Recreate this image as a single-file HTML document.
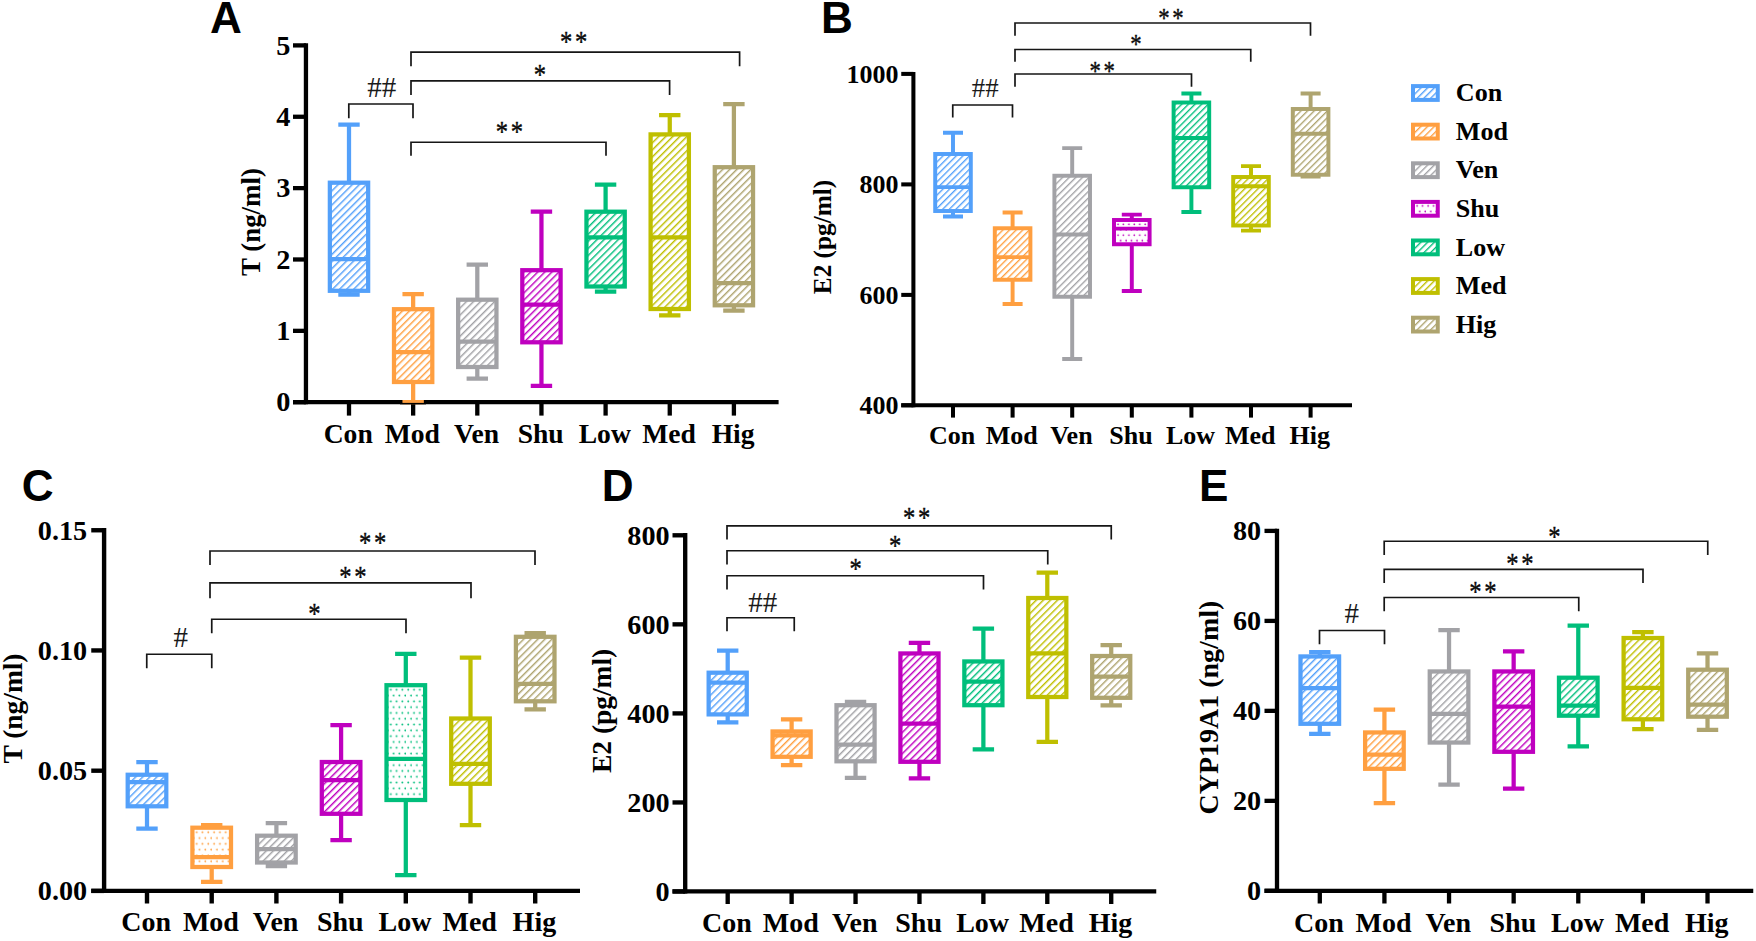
<!DOCTYPE html>
<html lang="en">
<head>
<meta charset="utf-8">
<title>Hormone levels box plots</title>
<style>
html,body{margin:0;padding:0;background:#fff;}
body{width:1756px;height:941px;overflow:hidden;}
svg{display:block;}
text{white-space:pre;}
</style>
</head>
<body>
<svg width="1756" height="941" viewBox="0 0 1756 941">
<rect width="1756" height="941" fill="#fff"/>
<defs>
<pattern id="p1" width="5" height="5" patternUnits="userSpaceOnUse" patternTransform="translate(5.49 0) rotate(45)"><rect x="0" y="-1" width="1.45" height="7" fill="#53A0FA"/></pattern>
<pattern id="p2" width="5" height="5" patternUnits="userSpaceOnUse" patternTransform="translate(5.22 0) rotate(45)"><rect x="0" y="-1" width="1.45" height="7" fill="#FF9F40"/></pattern>
<pattern id="p3" width="5" height="5" patternUnits="userSpaceOnUse" patternTransform="translate(3.3 0) rotate(45)"><rect x="0" y="-1" width="1.45" height="7" fill="#A2A2A6"/></pattern>
<pattern id="p4" width="5" height="5" patternUnits="userSpaceOnUse" patternTransform="translate(2.6 0) rotate(45)"><rect x="0" y="-1" width="1.45" height="7" fill="#BF00BF"/></pattern>
<pattern id="p5" width="5" height="5" patternUnits="userSpaceOnUse" patternTransform="translate(1.17 0) rotate(45)"><rect x="0" y="-1" width="1.45" height="7" fill="#00BE7B"/></pattern>
<pattern id="p6" width="5" height="5" patternUnits="userSpaceOnUse" patternTransform="translate(2.17 0) rotate(45)"><rect x="0" y="-1" width="1.45" height="7" fill="#BFBF00"/></pattern>
<pattern id="p7" width="5" height="5" patternUnits="userSpaceOnUse" patternTransform="translate(0.12 0) rotate(45)"><rect x="0" y="-1" width="1.45" height="7" fill="#AEA46F"/></pattern>
<pattern id="p8" width="4.69" height="4.69" patternUnits="userSpaceOnUse" patternTransform="translate(3.5 0) rotate(45)"><rect x="0" y="-1" width="1.36" height="6.69" fill="#53A0FA"/></pattern>
<pattern id="p9" width="4.69" height="4.69" patternUnits="userSpaceOnUse" patternTransform="translate(4.84 0) rotate(45)"><rect x="0" y="-1" width="1.36" height="6.69" fill="#FF9F40"/></pattern>
<pattern id="p10" width="4.69" height="4.69" patternUnits="userSpaceOnUse" patternTransform="translate(5.31 0) rotate(45)"><rect x="0" y="-1" width="1.36" height="6.69" fill="#A2A2A6"/></pattern>
<pattern id="p11" width="5.43" height="10.87" patternUnits="userSpaceOnUse" patternTransform="translate(1115.97 221.97)"><circle cx="2.06" cy="2.25" r="0.89" fill="#BF00BF"/><circle cx="4.78" cy="7.68" r="0.89" fill="#BF00BF"/></pattern>
<pattern id="p12" width="4.69" height="4.69" patternUnits="userSpaceOnUse" patternTransform="translate(4.88 0) rotate(45)"><rect x="0" y="-1" width="1.36" height="6.69" fill="#00BE7B"/></pattern>
<pattern id="p13" width="4.69" height="4.69" patternUnits="userSpaceOnUse" patternTransform="translate(6.47 0) rotate(45)"><rect x="0" y="-1" width="1.36" height="6.69" fill="#BFBF00"/></pattern>
<pattern id="p14" width="4.69" height="4.69" patternUnits="userSpaceOnUse" patternTransform="translate(4.7 0) rotate(45)"><rect x="0" y="-1" width="1.36" height="6.69" fill="#AEA46F"/></pattern>
<pattern id="p15" width="5" height="5" patternUnits="userSpaceOnUse" patternTransform="translate(6.48 0) rotate(45)"><rect x="0" y="-1" width="1.45" height="7" fill="#53A0FA"/></pattern>
<pattern id="p16" width="5.8" height="11.6" patternUnits="userSpaceOnUse" patternTransform="translate(194.52 829.83)"><circle cx="2.2" cy="2.4" r="0.95" fill="#FF9F40"/><circle cx="5.1" cy="8.2" r="0.95" fill="#FF9F40"/></pattern>
<pattern id="p17" width="5" height="5" patternUnits="userSpaceOnUse" patternTransform="translate(5.91 0) rotate(45)"><rect x="0" y="-1" width="1.45" height="7" fill="#A2A2A6"/></pattern>
<pattern id="p18" width="5" height="5" patternUnits="userSpaceOnUse" patternTransform="translate(3.98 0) rotate(45)"><rect x="0" y="-1" width="1.45" height="7" fill="#BF00BF"/></pattern>
<pattern id="p19" width="5.8" height="11.6" patternUnits="userSpaceOnUse" patternTransform="translate(388.62 687.33)"><circle cx="2.2" cy="2.4" r="0.95" fill="#00BE7B"/><circle cx="5.1" cy="8.2" r="0.95" fill="#00BE7B"/></pattern>
<pattern id="p20" width="5" height="5" patternUnits="userSpaceOnUse" patternTransform="translate(5.03 0) rotate(45)"><rect x="0" y="-1" width="1.45" height="7" fill="#BFBF00"/></pattern>
<pattern id="p21" width="5" height="5" patternUnits="userSpaceOnUse" patternTransform="translate(2.17 0) rotate(45)"><rect x="0" y="-1" width="1.45" height="7" fill="#AEA46F"/></pattern>
<pattern id="p22" width="5" height="5" patternUnits="userSpaceOnUse" patternTransform="translate(4.55 0) rotate(45)"><rect x="0" y="-1" width="1.45" height="7" fill="#53A0FA"/></pattern>
<pattern id="p23" width="5" height="5" patternUnits="userSpaceOnUse" patternTransform="translate(7.01 0) rotate(45)"><rect x="0" y="-1" width="1.45" height="7" fill="#FF9F40"/></pattern>
<pattern id="p24" width="5" height="5" patternUnits="userSpaceOnUse" patternTransform="translate(2.25 0) rotate(45)"><rect x="0" y="-1" width="1.45" height="7" fill="#A2A2A6"/></pattern>
<pattern id="p25" width="5" height="5" patternUnits="userSpaceOnUse" patternTransform="translate(0.28 0) rotate(45)"><rect x="0" y="-1" width="1.45" height="7" fill="#BF00BF"/></pattern>
<pattern id="p26" width="5" height="5" patternUnits="userSpaceOnUse" patternTransform="translate(1.49 0) rotate(45)"><rect x="0" y="-1" width="1.45" height="7" fill="#00BE7B"/></pattern>
<pattern id="p27" width="5" height="5" patternUnits="userSpaceOnUse" patternTransform="translate(1.96 0) rotate(45)"><rect x="0" y="-1" width="1.45" height="7" fill="#BFBF00"/></pattern>
<pattern id="p28" width="5" height="5" patternUnits="userSpaceOnUse" patternTransform="translate(3.67 0) rotate(45)"><rect x="0" y="-1" width="1.45" height="7" fill="#AEA46F"/></pattern>
<pattern id="p29" width="5" height="5" patternUnits="userSpaceOnUse" patternTransform="translate(0.32 0) rotate(45)"><rect x="0" y="-1" width="1.45" height="7" fill="#53A0FA"/></pattern>
<pattern id="p30" width="5" height="5" patternUnits="userSpaceOnUse" patternTransform="translate(6.59 0) rotate(45)"><rect x="0" y="-1" width="1.45" height="7" fill="#FF9F40"/></pattern>
<pattern id="p31" width="5" height="5" patternUnits="userSpaceOnUse" patternTransform="translate(3.14 0) rotate(45)"><rect x="0" y="-1" width="1.45" height="7" fill="#A2A2A6"/></pattern>
<pattern id="p32" width="5" height="5" patternUnits="userSpaceOnUse" patternTransform="translate(4.12 0) rotate(45)"><rect x="0" y="-1" width="1.45" height="7" fill="#BF00BF"/></pattern>
<pattern id="p33" width="5" height="5" patternUnits="userSpaceOnUse" patternTransform="translate(4.28 0) rotate(45)"><rect x="0" y="-1" width="1.45" height="7" fill="#00BE7B"/></pattern>
<pattern id="p34" width="5" height="5" patternUnits="userSpaceOnUse" patternTransform="translate(0.92 0) rotate(45)"><rect x="0" y="-1" width="1.45" height="7" fill="#BFBF00"/></pattern>
<pattern id="p35" width="5" height="5" patternUnits="userSpaceOnUse" patternTransform="translate(5.31 0) rotate(45)"><rect x="0" y="-1" width="1.45" height="7" fill="#AEA46F"/></pattern>
<pattern id="p36" width="4.75" height="4.75" patternUnits="userSpaceOnUse" patternTransform="translate(3.01 0) rotate(45)"><rect x="0" y="-1" width="1.38" height="6.75" fill="#53A0FA"/></pattern>
<pattern id="p37" width="4.75" height="4.75" patternUnits="userSpaceOnUse" patternTransform="translate(1.31 0) rotate(45)"><rect x="0" y="-1" width="1.38" height="6.75" fill="#FF9F40"/></pattern>
<pattern id="p38" width="4.75" height="4.75" patternUnits="userSpaceOnUse" patternTransform="translate(6.32 0) rotate(45)"><rect x="0" y="-1" width="1.38" height="6.75" fill="#A2A2A6"/></pattern>
<pattern id="p39" width="5.51" height="11.02" patternUnits="userSpaceOnUse" patternTransform="translate(1415 203.6)"><circle cx="2.09" cy="2.28" r="0.9" fill="#BF00BF"/><circle cx="4.84" cy="7.79" r="0.9" fill="#BF00BF"/></pattern>
<pattern id="p40" width="4.75" height="4.75" patternUnits="userSpaceOnUse" patternTransform="translate(2.91 0) rotate(45)"><rect x="0" y="-1" width="1.38" height="6.75" fill="#00BE7B"/></pattern>
<pattern id="p41" width="4.75" height="4.75" patternUnits="userSpaceOnUse" patternTransform="translate(1.2 0) rotate(45)"><rect x="0" y="-1" width="1.38" height="6.75" fill="#BFBF00"/></pattern>
<pattern id="p42" width="4.75" height="4.75" patternUnits="userSpaceOnUse" patternTransform="translate(6.22 0) rotate(45)"><rect x="0" y="-1" width="1.38" height="6.75" fill="#AEA46F"/></pattern>
</defs>
<text x="209.97" y="32.57" font-family="'Liberation Sans',Arial,sans-serif" font-weight="bold" font-size="44.1" fill="#000">A</text>
<path d="M305.95 43.2 V404.35" stroke="#000" stroke-width="4.3"/>
<path d="M293 402.2 H778.6" stroke="#000" stroke-width="4.3"/>
<path d="M293 45.4 H305.95" stroke="#000" stroke-width="4.3"/>
<text x="290.3" y="54.5" text-anchor="end" font-family="'Liberation Serif','Times New Roman',serif" font-weight="bold" font-size="28.3" fill="#000">5</text>
<path d="M293 116.76 H305.95" stroke="#000" stroke-width="4.3"/>
<text x="290.3" y="125.86" text-anchor="end" font-family="'Liberation Serif','Times New Roman',serif" font-weight="bold" font-size="28.3" fill="#000">4</text>
<path d="M293 188.12 H305.95" stroke="#000" stroke-width="4.3"/>
<text x="290.3" y="197.22" text-anchor="end" font-family="'Liberation Serif','Times New Roman',serif" font-weight="bold" font-size="28.3" fill="#000">3</text>
<path d="M293 259.48 H305.95" stroke="#000" stroke-width="4.3"/>
<text x="290.3" y="268.58" text-anchor="end" font-family="'Liberation Serif','Times New Roman',serif" font-weight="bold" font-size="28.3" fill="#000">2</text>
<path d="M293 330.84 H305.95" stroke="#000" stroke-width="4.3"/>
<text x="290.3" y="339.94" text-anchor="end" font-family="'Liberation Serif','Times New Roman',serif" font-weight="bold" font-size="28.3" fill="#000">1</text>
<path d="M293 402.2 H305.95" stroke="#000" stroke-width="4.3"/>
<text x="290.3" y="411.3" text-anchor="end" font-family="'Liberation Serif','Times New Roman',serif" font-weight="bold" font-size="28.3" fill="#000">0</text>
<path d="M349 402.2 V415.6" stroke="#000" stroke-width="4.3"/>
<text x="348.2" y="443.25" text-anchor="middle" font-family="'Liberation Serif','Times New Roman',serif" font-weight="bold" font-size="27.6" fill="#000">Con</text>
<path d="M413.15 402.2 V415.6" stroke="#000" stroke-width="4.3"/>
<text x="412.35" y="443.25" text-anchor="middle" font-family="'Liberation Serif','Times New Roman',serif" font-weight="bold" font-size="27.6" fill="#000">Mod</text>
<path d="M477.3 402.2 V415.6" stroke="#000" stroke-width="4.3"/>
<text x="476.5" y="443.25" text-anchor="middle" font-family="'Liberation Serif','Times New Roman',serif" font-weight="bold" font-size="27.6" fill="#000">Ven</text>
<path d="M541.45 402.2 V415.6" stroke="#000" stroke-width="4.3"/>
<text x="540.65" y="443.25" text-anchor="middle" font-family="'Liberation Serif','Times New Roman',serif" font-weight="bold" font-size="27.6" fill="#000">Shu</text>
<path d="M605.6 402.2 V415.6" stroke="#000" stroke-width="4.3"/>
<text x="604.8" y="443.25" text-anchor="middle" font-family="'Liberation Serif','Times New Roman',serif" font-weight="bold" font-size="27.6" fill="#000">Low</text>
<path d="M669.75 402.2 V415.6" stroke="#000" stroke-width="4.3"/>
<text x="668.95" y="443.25" text-anchor="middle" font-family="'Liberation Serif','Times New Roman',serif" font-weight="bold" font-size="27.6" fill="#000">Med</text>
<path d="M733.9 402.2 V415.6" stroke="#000" stroke-width="4.3"/>
<text x="733.1" y="443.25" text-anchor="middle" font-family="'Liberation Serif','Times New Roman',serif" font-weight="bold" font-size="27.6" fill="#000">Hig</text>
<text transform="translate(260 222) rotate(-90) scale(0.96 1)" text-anchor="middle" font-family="'Liberation Serif','Times New Roman',serif" font-weight="bold" font-size="28" fill="#000">T (ng/ml)</text>
<path d="M349 124.5 V182.7 M349 290.8 V294.5 M338.3 124.5 H359.7 M338.3 294.5 H359.7" stroke="#53A0FA" stroke-width="4.25" fill="none"/>
<rect x="329.85" y="182.7" width="38.3" height="108.1" fill="#fff"/>
<rect x="329.85" y="182.7" width="38.3" height="108.1" fill="url(#p1)" stroke="#53A0FA" stroke-width="4.25"/>
<path d="M329.85 259 H368.15" stroke="#53A0FA" stroke-width="4.25"/>
<path d="M413.15 294 V309.2 M413.15 382 V402.2 M402.45 294 H423.85 M402.45 402.2 H423.85" stroke="#FF9F40" stroke-width="4.25" fill="none"/>
<rect x="394" y="309.2" width="38.3" height="72.8" fill="#fff"/>
<rect x="394" y="309.2" width="38.3" height="72.8" fill="url(#p2)" stroke="#FF9F40" stroke-width="4.25"/>
<path d="M394 352 H432.3" stroke="#FF9F40" stroke-width="4.25"/>
<path d="M477.3 264.6 V299.7 M477.3 367 V378.5 M466.6 264.6 H488 M466.6 378.5 H488" stroke="#A2A2A6" stroke-width="4.25" fill="none"/>
<rect x="458.15" y="299.7" width="38.3" height="67.3" fill="#fff"/>
<rect x="458.15" y="299.7" width="38.3" height="67.3" fill="url(#p3)" stroke="#A2A2A6" stroke-width="4.25"/>
<path d="M458.15 341.6 H496.45" stroke="#A2A2A6" stroke-width="4.25"/>
<path d="M541.45 211.5 V270.2 M541.45 342.3 V385.9 M530.75 211.5 H552.15 M530.75 385.9 H552.15" stroke="#BF00BF" stroke-width="4.25" fill="none"/>
<rect x="522.3" y="270.2" width="38.3" height="72.1" fill="#fff"/>
<rect x="522.3" y="270.2" width="38.3" height="72.1" fill="url(#p4)" stroke="#BF00BF" stroke-width="4.25"/>
<path d="M522.3 304.6 H560.6" stroke="#BF00BF" stroke-width="4.25"/>
<path d="M605.6 184.5 V211.7 M605.6 286.5 V291.6 M594.9 184.5 H616.3 M594.9 291.6 H616.3" stroke="#00BE7B" stroke-width="4.25" fill="none"/>
<rect x="586.45" y="211.7" width="38.3" height="74.8" fill="#fff"/>
<rect x="586.45" y="211.7" width="38.3" height="74.8" fill="url(#p5)" stroke="#00BE7B" stroke-width="4.25"/>
<path d="M586.45 237.4 H624.75" stroke="#00BE7B" stroke-width="4.25"/>
<path d="M669.75 115.2 V134.4 M669.75 309 V315.4 M659.05 115.2 H680.45 M659.05 315.4 H680.45" stroke="#BFBF00" stroke-width="4.25" fill="none"/>
<rect x="650.6" y="134.4" width="38.3" height="174.6" fill="#fff"/>
<rect x="650.6" y="134.4" width="38.3" height="174.6" fill="url(#p6)" stroke="#BFBF00" stroke-width="4.25"/>
<path d="M650.6 237.4 H688.9" stroke="#BFBF00" stroke-width="4.25"/>
<path d="M733.9 104 V167.2 M733.9 305.3 V310.6 M723.2 104 H744.6 M723.2 310.6 H744.6" stroke="#AEA46F" stroke-width="4.25" fill="none"/>
<rect x="714.75" y="167.2" width="38.3" height="138.1" fill="#fff"/>
<rect x="714.75" y="167.2" width="38.3" height="138.1" fill="url(#p7)" stroke="#AEA46F" stroke-width="4.25"/>
<path d="M714.75 283 H753.05" stroke="#AEA46F" stroke-width="4.25"/>
<rect x="400" y="402.9" width="26" height="1.45" fill="#000"/>
<path d="M348.8 118.2 V104 H413 V118.2" fill="none" stroke="#161616" stroke-width="1.7"/>
<path d="M411 66.25 V52.2 H739.6 V66.25" fill="none" stroke="#161616" stroke-width="1.7"/>
<path d="M411 95 V80.9 H669.6 V95" fill="none" stroke="#161616" stroke-width="1.7"/>
<path d="M411 155.75 V142.25 H606 V155.75" fill="none" stroke="#161616" stroke-width="1.7"/>
<text x="367.18" y="96.74" font-family="'Liberation Serif','Times New Roman',serif" font-size="29" fill="#1a1a1a">##</text>
<text transform="translate(573.65 50.62) scale(0.82 1)" x="-16.66" y="0" letter-spacing="3.29" font-family="'Liberation Serif','Times New Roman',serif" font-size="30" fill="#0a0a0a" stroke="#0a0a0a" stroke-width="0.4">**</text>
<text transform="translate(540.02 84.12) scale(0.82 1)" x="-7.52" y="0" letter-spacing="3.29" font-family="'Liberation Serif','Times New Roman',serif" font-size="30" fill="#0a0a0a" stroke="#0a0a0a" stroke-width="0.4">*</text>
<text transform="translate(509.4 140.87) scale(0.82 1)" x="-16.66" y="0" letter-spacing="3.29" font-family="'Liberation Serif','Times New Roman',serif" font-size="30" fill="#0a0a0a" stroke="#0a0a0a" stroke-width="0.4">**</text>
<text x="821" y="32.57" font-family="'Liberation Sans',Arial,sans-serif" font-weight="bold" font-size="44.1" fill="#000">B</text>
<path d="M913.4 71.9 V407.22" stroke="#000" stroke-width="4.05"/>
<path d="M901.25 405.2 H1352" stroke="#000" stroke-width="4.05"/>
<path d="M901.25 73.9 H913.4" stroke="#000" stroke-width="4.05"/>
<text x="898.4" y="82.6" text-anchor="end" font-family="'Liberation Serif','Times New Roman',serif" font-weight="bold" font-size="26" fill="#000">1000</text>
<path d="M901.25 184.4 H913.4" stroke="#000" stroke-width="4.05"/>
<text x="898.4" y="193.1" text-anchor="end" font-family="'Liberation Serif','Times New Roman',serif" font-weight="bold" font-size="26" fill="#000">800</text>
<path d="M901.25 294.9 H913.4" stroke="#000" stroke-width="4.05"/>
<text x="898.4" y="303.6" text-anchor="end" font-family="'Liberation Serif','Times New Roman',serif" font-weight="bold" font-size="26" fill="#000">600</text>
<path d="M901.25 405.3 H913.4" stroke="#000" stroke-width="4.05"/>
<text x="898.4" y="414" text-anchor="end" font-family="'Liberation Serif','Times New Roman',serif" font-weight="bold" font-size="26" fill="#000">400</text>
<path d="M953 405.2 V417.6" stroke="#000" stroke-width="4.05"/>
<text x="952.2" y="443.5" text-anchor="middle" font-family="'Liberation Serif','Times New Roman',serif" font-weight="bold" font-size="26" fill="#000">Con</text>
<path d="M1012.6 405.2 V417.6" stroke="#000" stroke-width="4.05"/>
<text x="1011.8" y="443.5" text-anchor="middle" font-family="'Liberation Serif','Times New Roman',serif" font-weight="bold" font-size="26" fill="#000">Mod</text>
<path d="M1072.2 405.2 V417.6" stroke="#000" stroke-width="4.05"/>
<text x="1071.4" y="443.5" text-anchor="middle" font-family="'Liberation Serif','Times New Roman',serif" font-weight="bold" font-size="26" fill="#000">Ven</text>
<path d="M1131.8 405.2 V417.6" stroke="#000" stroke-width="4.05"/>
<text x="1131" y="443.5" text-anchor="middle" font-family="'Liberation Serif','Times New Roman',serif" font-weight="bold" font-size="26" fill="#000">Shu</text>
<path d="M1191.4 405.2 V417.6" stroke="#000" stroke-width="4.05"/>
<text x="1190.6" y="443.5" text-anchor="middle" font-family="'Liberation Serif','Times New Roman',serif" font-weight="bold" font-size="26" fill="#000">Low</text>
<path d="M1251 405.2 V417.6" stroke="#000" stroke-width="4.05"/>
<text x="1250.2" y="443.5" text-anchor="middle" font-family="'Liberation Serif','Times New Roman',serif" font-weight="bold" font-size="26" fill="#000">Med</text>
<path d="M1310.6 405.2 V417.6" stroke="#000" stroke-width="4.05"/>
<text x="1309.8" y="443.5" text-anchor="middle" font-family="'Liberation Serif','Times New Roman',serif" font-weight="bold" font-size="26" fill="#000">Hig</text>
<text transform="translate(831.3 237) rotate(-90) scale(0.98 1)" text-anchor="middle" font-family="'Liberation Serif','Times New Roman',serif" font-weight="bold" font-size="25.8" fill="#000">E2 (pg/ml)</text>
<path d="M953 132.75 V154 M953 211 V216.5 M943 132.75 H963 M943 216.5 H963" stroke="#53A0FA" stroke-width="3.95" fill="none"/>
<rect x="935.2" y="154" width="35.6" height="57" fill="#fff"/>
<rect x="935.2" y="154" width="35.6" height="57" fill="url(#p8)" stroke="#53A0FA" stroke-width="3.95"/>
<path d="M935.2 187.1 H970.8" stroke="#53A0FA" stroke-width="3.95"/>
<path d="M1012.6 212.5 V228.25 M1012.6 279.75 V303.9 M1002.6 212.5 H1022.6 M1002.6 303.9 H1022.6" stroke="#FF9F40" stroke-width="3.95" fill="none"/>
<rect x="994.8" y="228.25" width="35.6" height="51.5" fill="#fff"/>
<rect x="994.8" y="228.25" width="35.6" height="51.5" fill="url(#p9)" stroke="#FF9F40" stroke-width="3.95"/>
<path d="M994.8 257.1 H1030.4" stroke="#FF9F40" stroke-width="3.95"/>
<path d="M1072.2 148.1 V175.75 M1072.2 296.75 V358.9 M1062.2 148.1 H1082.2 M1062.2 358.9 H1082.2" stroke="#A2A2A6" stroke-width="3.95" fill="none"/>
<rect x="1054.4" y="175.75" width="35.6" height="121" fill="#fff"/>
<rect x="1054.4" y="175.75" width="35.6" height="121" fill="url(#p10)" stroke="#A2A2A6" stroke-width="3.95"/>
<path d="M1054.4 234.4 H1090" stroke="#A2A2A6" stroke-width="3.95"/>
<path d="M1131.8 214.6 V220 M1131.8 244.25 V290.9 M1121.8 214.6 H1141.8 M1121.8 290.9 H1141.8" stroke="#BF00BF" stroke-width="3.95" fill="none"/>
<rect x="1114" y="220" width="35.6" height="24.25" fill="#fff"/>
<rect x="1114" y="220" width="35.6" height="24.25" fill="url(#p11)" stroke="#BF00BF" stroke-width="3.95"/>
<path d="M1114 228.6 H1149.6" stroke="#BF00BF" stroke-width="3.95"/>
<path d="M1191.4 93.5 V102.5 M1191.4 187.25 V212 M1181.4 93.5 H1201.4 M1181.4 212 H1201.4" stroke="#00BE7B" stroke-width="3.95" fill="none"/>
<rect x="1173.6" y="102.5" width="35.6" height="84.75" fill="#fff"/>
<rect x="1173.6" y="102.5" width="35.6" height="84.75" fill="url(#p12)" stroke="#00BE7B" stroke-width="3.95"/>
<path d="M1173.6 137.9 H1209.2" stroke="#00BE7B" stroke-width="3.95"/>
<path d="M1251 166.1 V177 M1251 225.5 V230.6 M1241 166.1 H1261 M1241 230.6 H1261" stroke="#BFBF00" stroke-width="3.95" fill="none"/>
<rect x="1233.2" y="177" width="35.6" height="48.5" fill="#fff"/>
<rect x="1233.2" y="177" width="35.6" height="48.5" fill="url(#p13)" stroke="#BFBF00" stroke-width="3.95"/>
<path d="M1233.2 186.25 H1268.8" stroke="#BFBF00" stroke-width="3.95"/>
<path d="M1310.6 93.4 V109 M1310.6 174.75 V176.5 M1300.6 93.4 H1320.6 M1300.6 176.5 H1320.6" stroke="#AEA46F" stroke-width="3.95" fill="none"/>
<rect x="1292.8" y="109" width="35.6" height="65.75" fill="#fff"/>
<rect x="1292.8" y="109" width="35.6" height="65.75" fill="url(#p14)" stroke="#AEA46F" stroke-width="3.95"/>
<path d="M1292.8 133.75 H1328.4" stroke="#AEA46F" stroke-width="3.95"/>
<path d="M952.75 117.5 V105 H1012.5 V117.5" fill="none" stroke="#161616" stroke-width="1.7"/>
<path d="M1015 35.75 V23 H1310.5 V35.75" fill="none" stroke="#161616" stroke-width="1.7"/>
<path d="M1015 61.75 V49.5 H1250.75 V61.75" fill="none" stroke="#161616" stroke-width="1.7"/>
<path d="M1015 86.75 V74 H1191.5 V86.75" fill="none" stroke="#161616" stroke-width="1.7"/>
<text x="971.74" y="97.05" font-family="'Liberation Serif','Times New Roman',serif" font-size="26.87" fill="#1a1a1a">##</text>
<text transform="translate(1170.98 26.91) scale(0.82 1)" x="-15.44" y="0" letter-spacing="3.05" font-family="'Liberation Serif','Times New Roman',serif" font-size="27.8" fill="#0a0a0a" stroke="#0a0a0a" stroke-width="0.4">**</text>
<text transform="translate(1135.98 52.91) scale(0.82 1)" x="-6.96" y="0" letter-spacing="3.05" font-family="'Liberation Serif','Times New Roman',serif" font-size="27.8" fill="#0a0a0a" stroke="#0a0a0a" stroke-width="0.4">*</text>
<text transform="translate(1102.23 80.16) scale(0.82 1)" x="-15.44" y="0" letter-spacing="3.05" font-family="'Liberation Serif','Times New Roman',serif" font-size="27.8" fill="#0a0a0a" stroke="#0a0a0a" stroke-width="0.4">**</text>
<text x="21.64" y="500.78" font-family="'Liberation Sans',Arial,sans-serif" font-weight="bold" font-size="44.1" fill="#000">C</text>
<path d="M104.1 528.1 V893.1" stroke="#000" stroke-width="4.4"/>
<path d="M91.25 890.9 H580" stroke="#000" stroke-width="4.4"/>
<path d="M91.25 530.25 H104.1" stroke="#000" stroke-width="4.4"/>
<text x="87.2" y="539.65" text-anchor="end" font-family="'Liberation Serif','Times New Roman',serif" font-weight="bold" font-size="28.2" fill="#000">0.15</text>
<path d="M91.25 650.45 H104.1" stroke="#000" stroke-width="4.4"/>
<text x="87.2" y="659.85" text-anchor="end" font-family="'Liberation Serif','Times New Roman',serif" font-weight="bold" font-size="28.2" fill="#000">0.10</text>
<path d="M91.25 770.7 H104.1" stroke="#000" stroke-width="4.4"/>
<text x="87.2" y="780.1" text-anchor="end" font-family="'Liberation Serif','Times New Roman',serif" font-weight="bold" font-size="28.2" fill="#000">0.05</text>
<path d="M91.25 890.9 H104.1" stroke="#000" stroke-width="4.4"/>
<text x="87.2" y="900.3" text-anchor="end" font-family="'Liberation Serif','Times New Roman',serif" font-weight="bold" font-size="28.2" fill="#000">0.00</text>
<path d="M147 890.9 V903.5" stroke="#000" stroke-width="4.4"/>
<text x="146.2" y="931" text-anchor="middle" font-family="'Liberation Serif','Times New Roman',serif" font-weight="bold" font-size="28" fill="#000">Con</text>
<path d="M211.7 890.9 V903.5" stroke="#000" stroke-width="4.4"/>
<text x="210.9" y="931" text-anchor="middle" font-family="'Liberation Serif','Times New Roman',serif" font-weight="bold" font-size="28" fill="#000">Mod</text>
<path d="M276.4 890.9 V903.5" stroke="#000" stroke-width="4.4"/>
<text x="275.6" y="931" text-anchor="middle" font-family="'Liberation Serif','Times New Roman',serif" font-weight="bold" font-size="28" fill="#000">Ven</text>
<path d="M341.1 890.9 V903.5" stroke="#000" stroke-width="4.4"/>
<text x="340.3" y="931" text-anchor="middle" font-family="'Liberation Serif','Times New Roman',serif" font-weight="bold" font-size="28" fill="#000">Shu</text>
<path d="M405.8 890.9 V903.5" stroke="#000" stroke-width="4.4"/>
<text x="405" y="931" text-anchor="middle" font-family="'Liberation Serif','Times New Roman',serif" font-weight="bold" font-size="28" fill="#000">Low</text>
<path d="M470.5 890.9 V903.5" stroke="#000" stroke-width="4.4"/>
<text x="469.7" y="931" text-anchor="middle" font-family="'Liberation Serif','Times New Roman',serif" font-weight="bold" font-size="28" fill="#000">Med</text>
<path d="M535.2 890.9 V903.5" stroke="#000" stroke-width="4.4"/>
<text x="534.4" y="931" text-anchor="middle" font-family="'Liberation Serif','Times New Roman',serif" font-weight="bold" font-size="28" fill="#000">Hig</text>
<text transform="translate(22 708.5) rotate(-90) scale(0.98 1)" text-anchor="middle" font-family="'Liberation Serif','Times New Roman',serif" font-weight="bold" font-size="28" fill="#000">T (ng/ml)</text>
<path d="M147 762.2 V774.75 M147 806.3 V828.6 M136.3 762.2 H157.7 M136.3 828.6 H157.7" stroke="#53A0FA" stroke-width="4.25" fill="none"/>
<rect x="127.7" y="774.75" width="38.6" height="31.55" fill="#fff"/>
<rect x="127.7" y="774.75" width="38.6" height="31.55" fill="url(#p15)" stroke="#53A0FA" stroke-width="4.25"/>
<path d="M127.7 782.2 H166.3" stroke="#53A0FA" stroke-width="4.25"/>
<path d="M211.7 825 V827.7 M211.7 867 V881.75 M201 825 H222.4 M201 881.75 H222.4" stroke="#FF9F40" stroke-width="4.25" fill="none"/>
<rect x="192.4" y="827.7" width="38.6" height="39.3" fill="#fff"/>
<rect x="192.4" y="827.7" width="38.6" height="39.3" fill="url(#p16)" stroke="#FF9F40" stroke-width="4.25"/>
<path d="M192.4 857.1 H231" stroke="#FF9F40" stroke-width="4.25"/>
<path d="M276.4 823 V835.7 M276.4 862.5 V866 M265.7 823 H287.1 M265.7 866 H287.1" stroke="#A2A2A6" stroke-width="4.25" fill="none"/>
<rect x="257.1" y="835.7" width="38.6" height="26.8" fill="#fff"/>
<rect x="257.1" y="835.7" width="38.6" height="26.8" fill="url(#p17)" stroke="#A2A2A6" stroke-width="4.25"/>
<path d="M257.1 849.1 H295.7" stroke="#A2A2A6" stroke-width="4.25"/>
<path d="M341.1 725.1 V762 M341.1 813.8 V840.1 M330.4 725.1 H351.8 M330.4 840.1 H351.8" stroke="#BF00BF" stroke-width="4.25" fill="none"/>
<rect x="321.8" y="762" width="38.6" height="51.8" fill="#fff"/>
<rect x="321.8" y="762" width="38.6" height="51.8" fill="url(#p18)" stroke="#BF00BF" stroke-width="4.25"/>
<path d="M321.8 780 H360.4" stroke="#BF00BF" stroke-width="4.25"/>
<path d="M405.8 653.9 V685.2 M405.8 800 V875.1 M395.1 653.9 H416.5 M395.1 875.1 H416.5" stroke="#00BE7B" stroke-width="4.25" fill="none"/>
<rect x="386.5" y="685.2" width="38.6" height="114.8" fill="#fff"/>
<rect x="386.5" y="685.2" width="38.6" height="114.8" fill="url(#p19)" stroke="#00BE7B" stroke-width="4.25"/>
<path d="M386.5 758.75 H425.1" stroke="#00BE7B" stroke-width="4.25"/>
<path d="M470.5 657.6 V718.5 M470.5 783.8 V825.1 M459.8 657.6 H481.2 M459.8 825.1 H481.2" stroke="#BFBF00" stroke-width="4.25" fill="none"/>
<rect x="451.2" y="718.5" width="38.6" height="65.3" fill="#fff"/>
<rect x="451.2" y="718.5" width="38.6" height="65.3" fill="url(#p20)" stroke="#BFBF00" stroke-width="4.25"/>
<path d="M451.2 763.9 H489.8" stroke="#BFBF00" stroke-width="4.25"/>
<path d="M535.2 633 V636.8 M535.2 701.3 V709.4 M524.5 633 H545.9 M524.5 709.4 H545.9" stroke="#AEA46F" stroke-width="4.25" fill="none"/>
<rect x="515.9" y="636.8" width="38.6" height="64.5" fill="#fff"/>
<rect x="515.9" y="636.8" width="38.6" height="64.5" fill="url(#p21)" stroke="#AEA46F" stroke-width="4.25"/>
<path d="M515.9 683.9 H554.5" stroke="#AEA46F" stroke-width="4.25"/>
<path d="M146.75 668.25 V654.25 H211.75 V668.25" fill="none" stroke="#161616" stroke-width="1.7"/>
<path d="M210 565 V551 H535 V565" fill="none" stroke="#161616" stroke-width="1.7"/>
<path d="M210 598.25 V582.8 H471 V598.25" fill="none" stroke="#161616" stroke-width="1.7"/>
<path d="M211.75 633.25 V619.25 H406 V633.25" fill="none" stroke="#161616" stroke-width="1.7"/>
<text x="173.43" y="646.74" font-family="'Liberation Serif','Times New Roman',serif" font-size="29" fill="#1a1a1a">#</text>
<text transform="translate(372.57 552.02) scale(0.82 1)" x="-16.66" y="0" letter-spacing="3.29" font-family="'Liberation Serif','Times New Roman',serif" font-size="30" fill="#0a0a0a" stroke="#0a0a0a" stroke-width="0.4">**</text>
<text transform="translate(352.82 586.27) scale(0.82 1)" x="-16.66" y="0" letter-spacing="3.29" font-family="'Liberation Serif','Times New Roman',serif" font-size="30" fill="#0a0a0a" stroke="#0a0a0a" stroke-width="0.4">**</text>
<text transform="translate(314.45 622.89) scale(0.82 1)" x="-7.52" y="0" letter-spacing="3.29" font-family="'Liberation Serif','Times New Roman',serif" font-size="30" fill="#0a0a0a" stroke="#0a0a0a" stroke-width="0.4">*</text>
<text x="601.77" y="501.15" font-family="'Liberation Sans',Arial,sans-serif" font-weight="bold" font-size="44.1" fill="#000">D</text>
<path d="M685.2 533.1 V893.57" stroke="#000" stroke-width="4.35"/>
<path d="M672.5 891.4 H1156.25" stroke="#000" stroke-width="4.35"/>
<path d="M672.5 535.3 H685.2" stroke="#000" stroke-width="4.35"/>
<text x="669.6" y="544.7" text-anchor="end" font-family="'Liberation Serif','Times New Roman',serif" font-weight="bold" font-size="28.2" fill="#000">800</text>
<path d="M672.5 624.35 H685.2" stroke="#000" stroke-width="4.35"/>
<text x="669.6" y="633.75" text-anchor="end" font-family="'Liberation Serif','Times New Roman',serif" font-weight="bold" font-size="28.2" fill="#000">600</text>
<path d="M672.5 713.4 H685.2" stroke="#000" stroke-width="4.35"/>
<text x="669.6" y="722.8" text-anchor="end" font-family="'Liberation Serif','Times New Roman',serif" font-weight="bold" font-size="28.2" fill="#000">400</text>
<path d="M672.5 802.45 H685.2" stroke="#000" stroke-width="4.35"/>
<text x="669.6" y="811.85" text-anchor="end" font-family="'Liberation Serif','Times New Roman',serif" font-weight="bold" font-size="28.2" fill="#000">200</text>
<path d="M672.5 891.5 H685.2" stroke="#000" stroke-width="4.35"/>
<text x="669.6" y="900.9" text-anchor="end" font-family="'Liberation Serif','Times New Roman',serif" font-weight="bold" font-size="28.2" fill="#000">0</text>
<path d="M727.7 891.4 V904" stroke="#000" stroke-width="4.35"/>
<text x="726.9" y="931.5" text-anchor="middle" font-family="'Liberation Serif','Times New Roman',serif" font-weight="bold" font-size="28" fill="#000">Con</text>
<path d="M791.62 891.4 V904" stroke="#000" stroke-width="4.35"/>
<text x="790.82" y="931.5" text-anchor="middle" font-family="'Liberation Serif','Times New Roman',serif" font-weight="bold" font-size="28" fill="#000">Mod</text>
<path d="M855.54 891.4 V904" stroke="#000" stroke-width="4.35"/>
<text x="854.74" y="931.5" text-anchor="middle" font-family="'Liberation Serif','Times New Roman',serif" font-weight="bold" font-size="28" fill="#000">Ven</text>
<path d="M919.46 891.4 V904" stroke="#000" stroke-width="4.35"/>
<text x="918.66" y="931.5" text-anchor="middle" font-family="'Liberation Serif','Times New Roman',serif" font-weight="bold" font-size="28" fill="#000">Shu</text>
<path d="M983.38 891.4 V904" stroke="#000" stroke-width="4.35"/>
<text x="982.58" y="931.5" text-anchor="middle" font-family="'Liberation Serif','Times New Roman',serif" font-weight="bold" font-size="28" fill="#000">Low</text>
<path d="M1047.3 891.4 V904" stroke="#000" stroke-width="4.35"/>
<text x="1046.5" y="931.5" text-anchor="middle" font-family="'Liberation Serif','Times New Roman',serif" font-weight="bold" font-size="28" fill="#000">Med</text>
<path d="M1111.22 891.4 V904" stroke="#000" stroke-width="4.35"/>
<text x="1110.42" y="931.5" text-anchor="middle" font-family="'Liberation Serif','Times New Roman',serif" font-weight="bold" font-size="28" fill="#000">Hig</text>
<text transform="translate(611.2 710.9) rotate(-90) scale(0.99 1)" text-anchor="middle" font-family="'Liberation Serif','Times New Roman',serif" font-weight="bold" font-size="27.7" fill="#000">E2 (pg/ml)</text>
<path d="M727.7 650.6 V672.7 M727.7 714.4 V722.3 M717 650.6 H738.4 M717 722.3 H738.4" stroke="#53A0FA" stroke-width="4.25" fill="none"/>
<rect x="708.65" y="672.7" width="38.1" height="41.7" fill="#fff"/>
<rect x="708.65" y="672.7" width="38.1" height="41.7" fill="url(#p22)" stroke="#53A0FA" stroke-width="4.25"/>
<path d="M708.65 682.6 H746.75" stroke="#53A0FA" stroke-width="4.25"/>
<path d="M791.62 719.3 V731.45 M791.62 756.8 V765 M780.92 719.3 H802.32 M780.92 765 H802.32" stroke="#FF9F40" stroke-width="4.25" fill="none"/>
<rect x="772.57" y="731.45" width="38.1" height="25.35" fill="#fff"/>
<rect x="772.57" y="731.45" width="38.1" height="25.35" fill="url(#p23)" stroke="#FF9F40" stroke-width="4.25"/>
<path d="M772.57 735.3 H810.67" stroke="#FF9F40" stroke-width="4.25"/>
<path d="M855.54 701.8 V705.2 M855.54 761.3 V777.9 M844.84 701.8 H866.24 M844.84 777.9 H866.24" stroke="#A2A2A6" stroke-width="4.25" fill="none"/>
<rect x="836.49" y="705.2" width="38.1" height="56.1" fill="#fff"/>
<rect x="836.49" y="705.2" width="38.1" height="56.1" fill="url(#p24)" stroke="#A2A2A6" stroke-width="4.25"/>
<path d="M836.49 744.6 H874.59" stroke="#A2A2A6" stroke-width="4.25"/>
<path d="M919.46 642.9 V653.45 M919.46 761.8 V778.25 M908.76 642.9 H930.16 M908.76 778.25 H930.16" stroke="#BF00BF" stroke-width="4.25" fill="none"/>
<rect x="900.41" y="653.45" width="38.1" height="108.35" fill="#fff"/>
<rect x="900.41" y="653.45" width="38.1" height="108.35" fill="url(#p25)" stroke="#BF00BF" stroke-width="4.25"/>
<path d="M900.41 723.5 H938.51" stroke="#BF00BF" stroke-width="4.25"/>
<path d="M983.38 628.6 V661.45 M983.38 705.2 V749.4 M972.68 628.6 H994.08 M972.68 749.4 H994.08" stroke="#00BE7B" stroke-width="4.25" fill="none"/>
<rect x="964.33" y="661.45" width="38.1" height="43.75" fill="#fff"/>
<rect x="964.33" y="661.45" width="38.1" height="43.75" fill="url(#p26)" stroke="#00BE7B" stroke-width="4.25"/>
<path d="M964.33 681.6 H1002.43" stroke="#00BE7B" stroke-width="4.25"/>
<path d="M1047.3 572.5 V598 M1047.3 697 V741.9 M1036.6 572.5 H1058 M1036.6 741.9 H1058" stroke="#BFBF00" stroke-width="4.25" fill="none"/>
<rect x="1028.25" y="598" width="38.1" height="99" fill="#fff"/>
<rect x="1028.25" y="598" width="38.1" height="99" fill="url(#p27)" stroke="#BFBF00" stroke-width="4.25"/>
<path d="M1028.25 653.4 H1066.35" stroke="#BFBF00" stroke-width="4.25"/>
<path d="M1111.22 645 V656 M1111.22 697.8 V705.4 M1100.52 645 H1121.92 M1100.52 705.4 H1121.92" stroke="#AEA46F" stroke-width="4.25" fill="none"/>
<rect x="1092.17" y="656" width="38.1" height="41.8" fill="#fff"/>
<rect x="1092.17" y="656" width="38.1" height="41.8" fill="url(#p28)" stroke="#AEA46F" stroke-width="4.25"/>
<path d="M1092.17 676.5 H1130.27" stroke="#AEA46F" stroke-width="4.25"/>
<path d="M727 539.5 V525.9 H1111.25 V539.5" fill="none" stroke="#161616" stroke-width="1.7"/>
<path d="M727 564.5 V550.75 H1047.75 V564.5" fill="none" stroke="#161616" stroke-width="1.7"/>
<path d="M727 589.5 V575.75 H983.5 V589.5" fill="none" stroke="#161616" stroke-width="1.7"/>
<path d="M727 631.25 V617.75 H794.25 V631.25" fill="none" stroke="#161616" stroke-width="1.7"/>
<text transform="translate(916.67 527.12) scale(0.82 1)" x="-16.66" y="0" letter-spacing="3.29" font-family="'Liberation Serif','Times New Roman',serif" font-size="30" fill="#0a0a0a" stroke="#0a0a0a" stroke-width="0.4">**</text>
<text transform="translate(895.05 554.62) scale(0.82 1)" x="-7.52" y="0" letter-spacing="3.29" font-family="'Liberation Serif','Times New Roman',serif" font-size="30" fill="#0a0a0a" stroke="#0a0a0a" stroke-width="0.4">*</text>
<text transform="translate(855.67 578.25) scale(0.82 1)" x="-7.52" y="0" letter-spacing="3.29" font-family="'Liberation Serif','Times New Roman',serif" font-size="30" fill="#0a0a0a" stroke="#0a0a0a" stroke-width="0.4">*</text>
<text x="748.17" y="611.74" font-family="'Liberation Serif','Times New Roman',serif" font-size="29" fill="#1a1a1a">##</text>
<text x="1198.88" y="501.12" font-family="'Liberation Sans',Arial,sans-serif" font-weight="bold" font-size="44.1" fill="#000">E</text>
<path d="M1277 528.7 V892.95" stroke="#000" stroke-width="4.3"/>
<path d="M1264.5 890.8 H1753.25" stroke="#000" stroke-width="4.3"/>
<path d="M1264.5 530.9 H1277" stroke="#000" stroke-width="4.3"/>
<text x="1261.1" y="540.3" text-anchor="end" font-family="'Liberation Serif','Times New Roman',serif" font-weight="bold" font-size="28.2" fill="#000">80</text>
<path d="M1264.5 620.9 H1277" stroke="#000" stroke-width="4.3"/>
<text x="1261.1" y="630.3" text-anchor="end" font-family="'Liberation Serif','Times New Roman',serif" font-weight="bold" font-size="28.2" fill="#000">60</text>
<path d="M1264.5 710.85 H1277" stroke="#000" stroke-width="4.3"/>
<text x="1261.1" y="720.25" text-anchor="end" font-family="'Liberation Serif','Times New Roman',serif" font-weight="bold" font-size="28.2" fill="#000">40</text>
<path d="M1264.5 800.85 H1277" stroke="#000" stroke-width="4.3"/>
<text x="1261.1" y="810.25" text-anchor="end" font-family="'Liberation Serif','Times New Roman',serif" font-weight="bold" font-size="28.2" fill="#000">20</text>
<path d="M1264.5 890.8 H1277" stroke="#000" stroke-width="4.3"/>
<text x="1261.1" y="900.2" text-anchor="end" font-family="'Liberation Serif','Times New Roman',serif" font-weight="bold" font-size="28.2" fill="#000">0</text>
<path d="M1319.8 890.8 V903.5" stroke="#000" stroke-width="4.3"/>
<text x="1319" y="931.5" text-anchor="middle" font-family="'Liberation Serif','Times New Roman',serif" font-weight="bold" font-size="28" fill="#000">Con</text>
<path d="M1384.42 890.8 V903.5" stroke="#000" stroke-width="4.3"/>
<text x="1383.62" y="931.5" text-anchor="middle" font-family="'Liberation Serif','Times New Roman',serif" font-weight="bold" font-size="28" fill="#000">Mod</text>
<path d="M1449.04 890.8 V903.5" stroke="#000" stroke-width="4.3"/>
<text x="1448.24" y="931.5" text-anchor="middle" font-family="'Liberation Serif','Times New Roman',serif" font-weight="bold" font-size="28" fill="#000">Ven</text>
<path d="M1513.66 890.8 V903.5" stroke="#000" stroke-width="4.3"/>
<text x="1512.86" y="931.5" text-anchor="middle" font-family="'Liberation Serif','Times New Roman',serif" font-weight="bold" font-size="28" fill="#000">Shu</text>
<path d="M1578.28 890.8 V903.5" stroke="#000" stroke-width="4.3"/>
<text x="1577.48" y="931.5" text-anchor="middle" font-family="'Liberation Serif','Times New Roman',serif" font-weight="bold" font-size="28" fill="#000">Low</text>
<path d="M1642.9 890.8 V903.5" stroke="#000" stroke-width="4.3"/>
<text x="1642.1" y="931.5" text-anchor="middle" font-family="'Liberation Serif','Times New Roman',serif" font-weight="bold" font-size="28" fill="#000">Med</text>
<path d="M1707.52 890.8 V903.5" stroke="#000" stroke-width="4.3"/>
<text x="1706.72" y="931.5" text-anchor="middle" font-family="'Liberation Serif','Times New Roman',serif" font-weight="bold" font-size="28" fill="#000">Hig</text>
<text transform="translate(1218 707.6) rotate(-90) scale(1 1)" text-anchor="middle" font-family="'Liberation Serif','Times New Roman',serif" font-weight="bold" font-size="28" fill="#000">CYP19A1 (ng/ml)</text>
<path d="M1319.8 652 V656.45 M1319.8 723.8 V733.9 M1309.1 652 H1330.5 M1309.1 733.9 H1330.5" stroke="#53A0FA" stroke-width="4.25" fill="none"/>
<rect x="1300.5" y="656.45" width="38.6" height="67.35" fill="#fff"/>
<rect x="1300.5" y="656.45" width="38.6" height="67.35" fill="url(#p29)" stroke="#53A0FA" stroke-width="4.25"/>
<path d="M1300.5 688.1 H1339.1" stroke="#53A0FA" stroke-width="4.25"/>
<path d="M1384.42 709.5 V732.45 M1384.42 768.8 V803 M1373.72 709.5 H1395.12 M1373.72 803 H1395.12" stroke="#FF9F40" stroke-width="4.25" fill="none"/>
<rect x="1365.12" y="732.45" width="38.6" height="36.35" fill="#fff"/>
<rect x="1365.12" y="732.45" width="38.6" height="36.35" fill="url(#p30)" stroke="#FF9F40" stroke-width="4.25"/>
<path d="M1365.12 754.6 H1403.72" stroke="#FF9F40" stroke-width="4.25"/>
<path d="M1449.04 630 V671.45 M1449.04 742.55 V784.5 M1438.34 630 H1459.74 M1438.34 784.5 H1459.74" stroke="#A2A2A6" stroke-width="4.25" fill="none"/>
<rect x="1429.74" y="671.45" width="38.6" height="71.1" fill="#fff"/>
<rect x="1429.74" y="671.45" width="38.6" height="71.1" fill="url(#p31)" stroke="#A2A2A6" stroke-width="4.25"/>
<path d="M1429.74 713.8 H1468.34" stroke="#A2A2A6" stroke-width="4.25"/>
<path d="M1513.66 651.25 V671.45 M1513.66 751.8 V788.5 M1502.96 651.25 H1524.36 M1502.96 788.5 H1524.36" stroke="#BF00BF" stroke-width="4.25" fill="none"/>
<rect x="1494.36" y="671.45" width="38.6" height="80.35" fill="#fff"/>
<rect x="1494.36" y="671.45" width="38.6" height="80.35" fill="url(#p32)" stroke="#BF00BF" stroke-width="4.25"/>
<path d="M1494.36 706.6 H1532.96" stroke="#BF00BF" stroke-width="4.25"/>
<path d="M1578.28 625.6 V677.7 M1578.28 715.7 V746.25 M1567.58 625.6 H1588.98 M1567.58 746.25 H1588.98" stroke="#00BE7B" stroke-width="4.25" fill="none"/>
<rect x="1558.98" y="677.7" width="38.6" height="38" fill="#fff"/>
<rect x="1558.98" y="677.7" width="38.6" height="38" fill="url(#p33)" stroke="#00BE7B" stroke-width="4.25"/>
<path d="M1558.98 705.6 H1597.58" stroke="#00BE7B" stroke-width="4.25"/>
<path d="M1642.9 632 V638 M1642.9 719.3 V729.1 M1632.2 632 H1653.6 M1632.2 729.1 H1653.6" stroke="#BFBF00" stroke-width="4.25" fill="none"/>
<rect x="1623.6" y="638" width="38.6" height="81.3" fill="#fff"/>
<rect x="1623.6" y="638" width="38.6" height="81.3" fill="url(#p34)" stroke="#BFBF00" stroke-width="4.25"/>
<path d="M1623.6 687.9 H1662.2" stroke="#BFBF00" stroke-width="4.25"/>
<path d="M1707.52 653.25 V669.7 M1707.52 716.7 V729.9 M1696.82 653.25 H1718.22 M1696.82 729.9 H1718.22" stroke="#AEA46F" stroke-width="4.25" fill="none"/>
<rect x="1688.22" y="669.7" width="38.6" height="47" fill="#fff"/>
<rect x="1688.22" y="669.7" width="38.6" height="47" fill="url(#p35)" stroke="#AEA46F" stroke-width="4.25"/>
<path d="M1688.22 704.5 H1726.82" stroke="#AEA46F" stroke-width="4.25"/>
<path d="M1319.5 644.25 V630.5 H1384.5 V644.25" fill="none" stroke="#161616" stroke-width="1.7"/>
<path d="M1384.2 555 V541.25 H1707.75 V555" fill="none" stroke="#161616" stroke-width="1.7"/>
<path d="M1384.2 583 V569.3 H1643 V583" fill="none" stroke="#161616" stroke-width="1.7"/>
<path d="M1384.2 611.25 V597.5 H1578.75 V611.25" fill="none" stroke="#161616" stroke-width="1.7"/>
<text transform="translate(1554.4 545.7) scale(0.82 1)" x="-7.52" y="0" letter-spacing="3.29" font-family="'Liberation Serif','Times New Roman',serif" font-size="30" fill="#0a0a0a" stroke="#0a0a0a" stroke-width="0.4">*</text>
<text transform="translate(1520.03 573.2) scale(0.82 1)" x="-16.66" y="0" letter-spacing="3.29" font-family="'Liberation Serif','Times New Roman',serif" font-size="30" fill="#0a0a0a" stroke="#0a0a0a" stroke-width="0.4">**</text>
<text transform="translate(1483.03 600.7) scale(0.82 1)" x="-16.66" y="0" letter-spacing="3.29" font-family="'Liberation Serif','Times New Roman',serif" font-size="30" fill="#0a0a0a" stroke="#0a0a0a" stroke-width="0.4">**</text>
<text x="1344.42" y="622.99" font-family="'Liberation Serif','Times New Roman',serif" font-size="29" fill="#1a1a1a">#</text>
<rect x="1413" y="86.1" width="24.75" height="13.8" fill="url(#p36)" stroke="#53A0FA" stroke-width="4"/>
<text x="1455.8" y="101" font-family="'Liberation Serif','Times New Roman',serif" font-weight="bold" font-size="26.1" fill="#000">Con</text>
<rect x="1413" y="124.7" width="24.75" height="13.8" fill="url(#p37)" stroke="#FF9F40" stroke-width="4"/>
<text x="1455.8" y="139.68" font-family="'Liberation Serif','Times New Roman',serif" font-weight="bold" font-size="26.1" fill="#000">Mod</text>
<rect x="1413" y="163.3" width="24.75" height="13.8" fill="url(#p38)" stroke="#A2A2A6" stroke-width="4"/>
<text x="1455.8" y="178.36" font-family="'Liberation Serif','Times New Roman',serif" font-weight="bold" font-size="26.1" fill="#000">Ven</text>
<rect x="1413" y="201.9" width="24.75" height="13.8" fill="url(#p39)" stroke="#BF00BF" stroke-width="4"/>
<text x="1455.8" y="217.04" font-family="'Liberation Serif','Times New Roman',serif" font-weight="bold" font-size="26.1" fill="#000">Shu</text>
<rect x="1413" y="240.5" width="24.75" height="13.8" fill="url(#p40)" stroke="#00BE7B" stroke-width="4"/>
<text x="1455.8" y="255.72" font-family="'Liberation Serif','Times New Roman',serif" font-weight="bold" font-size="26.1" fill="#000">Low</text>
<rect x="1413" y="279.1" width="24.75" height="13.8" fill="url(#p41)" stroke="#BFBF00" stroke-width="4"/>
<text x="1455.8" y="294.4" font-family="'Liberation Serif','Times New Roman',serif" font-weight="bold" font-size="26.1" fill="#000">Med</text>
<rect x="1413" y="317.7" width="24.75" height="13.8" fill="url(#p42)" stroke="#AEA46F" stroke-width="4"/>
<text x="1455.8" y="333.08" font-family="'Liberation Serif','Times New Roman',serif" font-weight="bold" font-size="26.1" fill="#000">Hig</text>
</svg>
</body>
</html>
